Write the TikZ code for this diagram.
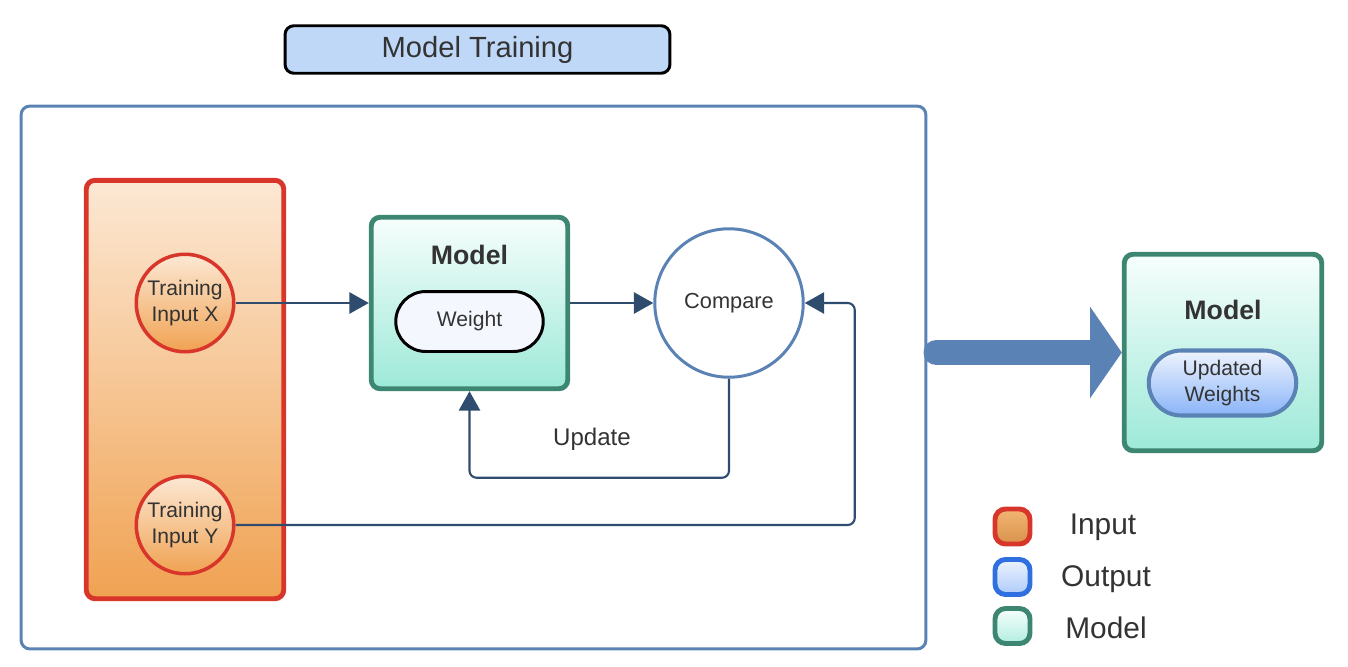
\documentclass[tikz,border=0pt]{standalone}
\usepackage{fontspec}
\setmainfont{Liberation Sans}
\usepackage{xcolor}
\usetikzlibrary{arrows.meta, positioning, calc, shapes}
\definecolor{inred}{HTML}{D9362B}
\definecolor{intop}{HTML}{FCE8D4}
\definecolor{inbot}{HTML}{F0A252}
\definecolor{modgreen}{HTML}{3C8672}
\definecolor{modtop}{HTML}{F7FEFC}
\definecolor{modbot}{HTML}{9DE9D8}
\definecolor{frameblue}{HTML}{5A82B4}
\definecolor{linkblue}{HTML}{2F4B6E}
\definecolor{titlefill}{HTML}{BFD8F8}
\definecolor{weightfill}{HTML}{F4F8FE}
\definecolor{outtop}{HTML}{EEF3FD}
\definecolor{outbot}{HTML}{8AB4F8}
\definecolor{legblue}{HTML}{2F6FE0}
\definecolor{txtgray}{HTML}{333333}
\tikzstyle{link} = [draw=linkblue, line width=1.2pt, -{Triangle[length=11pt,width=12pt]}]
\tikzstyle{incircle} = [circle, draw=inred, line width=2pt, top color=intop, bottom color=inbot, minimum size=1.95cm, inner sep=0pt, align=center, text=txtgray, font=\fontsize{12}{14.7}\selectfont]
\tikzstyle{modelbox} = [rectangle, rounded corners=5pt, draw=modgreen, line width=2.8pt, top color=modtop, bottom color=modbot]
\tikzstyle{pill} = [rectangle, rounded corners=0.6cm, line width=1.7pt, align=center, text=txtgray, font=\fontsize{12}{14.7}\selectfont]
\tikzstyle{legbox} = [rectangle, rounded corners=6pt, line width=2.8pt, minimum size=0.7cm]
\tikzstyle{legtext} = [text=txtgray, font=\fontsize{17}{20}\selectfont]

\begin{document}
\begin{tikzpicture}[x=0.02cm, y=-0.02cm]
\useasboundingbox (0, 0) rectangle (1348, 666);

% title and frame
\node [rectangle, rounded corners=5pt, draw=black, line width=1.7pt, fill=titlefill, minimum width=7.7cm, minimum height=0.95cm, text=txtgray, font=\fontsize{16.6}{20}\selectfont] (title) at (477.5, 49.5) {Model Training};
\node [rectangle, rounded corners=5pt, draw=frameblue, line width=1.7pt, minimum width=18.1cm, minimum height=10.86cm] (frame) at (473.5, 377.5) {};

% inputs
\node [rectangle, rounded corners=5pt, draw=inred, line width=2.8pt, top color=intop, bottom color=inbot, minimum width=3.95cm, minimum height=8.37cm] (inputs) at (185, 389.5) {};
\node [incircle] (inx) at (185, 303) {Training\\Input X};
\node [incircle] (iny) at (185, 525) {Training\\Input Y};

% model and compare
\node [modelbox, minimum width=3.93cm, minimum height=3.43cm] (model) at (469.5, 303) {};
\node [text=txtgray, font=\fontsize{15.2}{18}\selectfont\bfseries] (modlabel) at (469.5, 255) {Model};
\node [pill, draw=black, fill=weightfill, minimum width=2.95cm, minimum height=1.2cm] (weight) at (469.5, 321.5) {Weight};
\node [circle, draw=frameblue, line width=1.7pt, fill=white, minimum size=2.97cm, inner sep=0pt, text=txtgray, font=\fontsize{12.4}{15}\selectfont] (cmp) at (729, 303) {Compare};

% connectors
\draw [link] (inx.east) -- (inx.east -| model.west);
\draw [link] (model.east |- cmp) -- (cmp.west);
\draw [link, rounded corners=4pt] (cmp.south) -- ++(0, 99) -| (model.south);
\node [text=txtgray, font=\fontsize{13.7}{16}\selectfont] (update) at (592, 439) {Update};
\draw [link, rounded corners=4pt] (iny.east) -| ($(cmp.east)+(50, 0)$) -- (cmp.east);

% result
\node [modelbox, minimum width=3.95cm, minimum height=3.93cm] (rmodel) at (1223, 352.5) {};
\node [text=txtgray, font=\fontsize{15.2}{18}\selectfont\bfseries] (rmodlabel) at (1223, 310) {Model};
\node [pill, draw=frameblue, line width=2.3pt, top color=outtop, bottom color=outbot, minimum width=2.95cm, minimum height=1.3cm, rounded corners=0.65cm] (upd) at (1222.5, 383) {Updated\\Weights};
\draw [draw=frameblue, line width=14.7pt, line cap=round, -{Triangle[length=18pt, width=51pt]}] ($(frame.east |- rmodel)+(9, 0)$) -- (rmodel.west);

% legend
\node [legbox, draw=inred, top color=inbot!80!white, bottom color=inbot!90!black] (legin) at (1012.5, 526.5) {};
\node [legbox, draw=legblue, top color=outtop, bottom color=outbot!70!white] (legout) at (1012.5, 577) {};
\node [legbox, draw=modgreen, top color=modtop, bottom color=modbot!80!white] (legmod) at (1012.5, 626) {};
\node [legtext] (legintxt) at (1103, 527) {Input};
\node [legtext] (legouttxt) at (1106, 579) {Output};
\node [legtext] (legmodtxt) at (1106, 628) {Model};

\end{tikzpicture}
\end{document}
